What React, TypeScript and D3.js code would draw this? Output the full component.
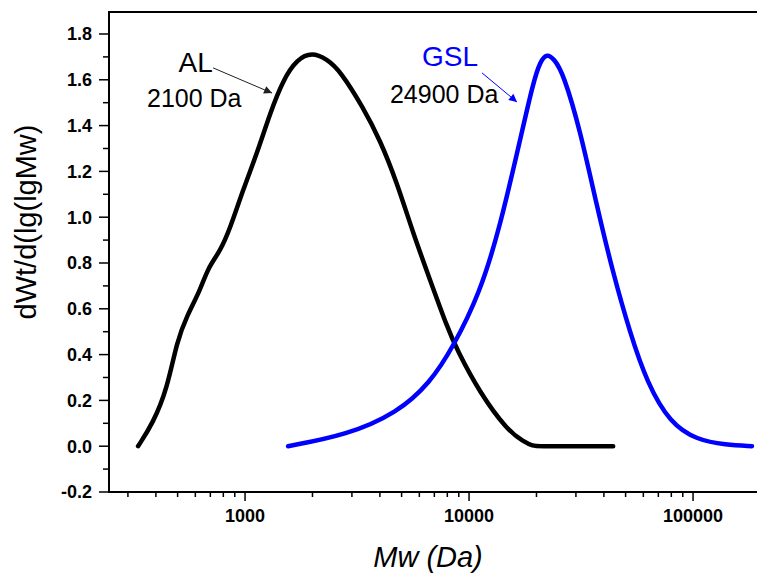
import React, { useEffect, useRef } from 'react';
import * as d3 from 'd3';

// AL curve (Mw in Da, dWt/d(lgMw))
const alMw = [333, 388, 449, 497, 551, 630, 684, 773, 857, 980, 1132, 1294, 1479, 1708, 1991, 2320, 2655, 3363, 4008, 4775, 5623, 6698, 7980, 8840, 11190, 14780, 17500, 19320, 20500, 30000, 44000];
const alVal = [0.0, 0.10, 0.25, 0.46, 0.57, 0.68, 0.78, 0.85, 0.95, 1.12, 1.28, 1.455, 1.60, 1.69, 1.72, 1.69, 1.64, 1.48, 1.337, 1.149, 0.931, 0.726, 0.521, 0.42, 0.232, 0.071, 0.02, 0.0, 0.0, 0.0, 0.0];

// GSL curve
const gslMw = [1556, 2853, 4775, 6698, 8490, 11190, 13740, 16900, 19320, 20750, 22300, 24000, 26300, 31330, 37260, 43950, 52360, 62370, 78930, 104200, 140000, 183300];
const gslVal = [0.0, 0.049, 0.145, 0.276, 0.433, 0.669, 0.957, 1.337, 1.586, 1.68, 1.715, 1.69, 1.63, 1.381, 1.045, 0.756, 0.494, 0.276, 0.101, 0.027, 0.006, 0.0];

const yTicks = [-0.2, 0.0, 0.2, 0.4, 0.6, 0.8, 1.0, 1.2, 1.4, 1.6, 1.8];
const xDomain = [247, 193000];
const yDomain = [-0.2, 1.896];

// annotation positions in data units
const labels = [
  { text: 'AL', mw: 505, v: 1.634, size: 28, color: '#000' },
  { text: '2100 Da', mw: 365, v: 1.481, size: 25, color: '#000' },
  { text: 'GSL', mw: 6166, v: 1.66, size: 28, color: '#0000ff' },
  { text: '24900 Da', mw: 4436, v: 1.498, size: 25, color: '#000' },
];
const arrows = [
  { from: [720, 1.652], to: [1320, 1.542], color: '#222' },
  { from: [11430, 1.63], to: [16370, 1.503], color: '#0000ff' },
];

const font = "'Liberation Sans', Arial, sans-serif";

const Chart = () => {
  const svgRef = useRef<SVGSVGElement>(null);

  useEffect(() => {
    const width = 757;
    const height = 575;
    const marginLeft = 109;
    const marginRight = 0;
    const marginTop = 12;
    const marginBottom = 83;

    const svg = d3.select(svgRef.current);
    svg.selectAll('*').remove();
    svg.attr('width', width).attr('height', height);

    const x = d3.scaleLog().domain(xDomain).range([marginLeft, width - marginRight]);
    const y = d3.scaleLinear().domain(yDomain).range([height - marginBottom, marginTop]);

    const defs = svg.append('defs');
    arrows.forEach((a, i) => {
      defs.append('marker')
        .attr('id', 'arr' + i)
        .attr('viewBox', '0 0 10 10')
        .attr('refX', 10).attr('refY', 5)
        .attr('markerWidth', 12).attr('markerHeight', 8)
        .attr('markerUnits', 'userSpaceOnUse')
        .attr('orient', 'auto')
        .append('path').attr('d', 'M0,0L10,5L0,10z').attr('fill', a.color);
    });

    // frame (top + left + bottom), right side is cut off in the original
    const x0 = marginLeft, x1 = width - marginRight, y0 = marginTop, y1 = height - marginBottom;
    svg.append('path')
      .attr('d', `M${x1},${y0}H${x0}V${y1}H${x1}`)
      .attr('fill', 'none').attr('stroke', '#000').attr('stroke-width', 2);

    // x ticks
    const xt = x.ticks().filter(t => t >= xDomain[0] && t <= xDomain[1]);
    const isMajor = (t: number) => Math.abs(Math.log10(t) - Math.round(Math.log10(t))) < 1e-9;
    svg.append('g').selectAll('line').data(xt).join('line')
      .attr('x1', d => x(d)).attr('x2', d => x(d))
      .attr('y1', y1).attr('y2', d => y1 + (isMajor(d) ? 9 : 5))
      .attr('stroke', '#000').attr('stroke-width', 1.5);
    svg.append('g').selectAll('text').data(xt.filter(isMajor)).join('text')
      .attr('x', d => x(d)).attr('y', y1 + 30)
      .attr('text-anchor', 'middle')
      .attr('font-family', font).attr('font-weight', 'bold').attr('font-size', 18)
      .text(d => String(d));

    // y ticks
    const yMinor = d3.range(-1, 19, 2).map(i => i / 10);
    svg.append('g').selectAll('line').data(yMinor).join('line')
      .attr('x1', x0 - 6).attr('x2', x0).attr('y1', d => y(d)).attr('y2', d => y(d))
      .attr('stroke', '#000').attr('stroke-width', 1.5);
    svg.append('g').selectAll('line').data(yTicks).join('line')
      .attr('x1', x0 - 10).attr('x2', x0).attr('y1', d => y(d)).attr('y2', d => y(d))
      .attr('stroke', '#000').attr('stroke-width', 1.5);
    svg.append('g').selectAll('text').data(yTicks).join('text')
      .attr('x', x0 - 17).attr('y', d => y(d)).attr('dy', '0.36em')
      .attr('text-anchor', 'end')
      .attr('font-family', font).attr('font-weight', 'bold').attr('font-size', 18)
      .text(d => d.toFixed(1));

    // axis titles
    svg.append('text')
      .attr('transform', 'translate(36,222) rotate(-90)')
      .attr('text-anchor', 'middle')
      .attr('font-family', font).attr('font-size', 29)
      .text('dWt/d(lg(lgMw)');
    svg.append('text')
      .attr('x', 428).attr('y', 567)
      .attr('text-anchor', 'middle')
      .attr('font-family', font).attr('font-style', 'italic').attr('font-size', 29)
      .text('Mw (Da)');

    // curves
    const line = d3.line<[number, number]>()
      .x(d => x(d[0])).y(d => y(d[1]))
      .curve(d3.curveBasis);
    const series = [
      { mw: alMw, val: alVal, color: '#000' },
      { mw: gslMw, val: gslVal, color: '#0000ff' },
    ];
    series.forEach(s => {
      svg.append('path')
        .datum(s.mw.map((m, i) => [m, s.val[i]] as [number, number]))
        .attr('d', line)
        .attr('fill', 'none').attr('stroke', s.color)
        .attr('stroke-width', 4.5).attr('stroke-linecap', 'round').attr('stroke-linejoin', 'round');
    });

    // annotations
    svg.append('g').selectAll('text').data(labels).join('text')
      .attr('x', d => x(d.mw)).attr('y', d => y(d.v))
      .attr('font-family', font).attr('font-size', d => d.size)
      .attr('fill', d => d.color)
      .text(d => d.text);
    arrows.forEach((a, i) => {
      svg.append('line')
        .attr('x1', x(a.from[0])).attr('y1', y(a.from[1]))
        .attr('x2', x(a.to[0])).attr('y2', y(a.to[1]))
        .attr('stroke', a.color).attr('stroke-width', 1)
        .attr('marker-end', `url(#arr${i})`);
    });
  }, []);

  return <svg ref={svgRef} style={{ position: 'absolute', left: 0, top: 0 }}></svg>;
};

export default function App() {
  return <Chart />;
}
